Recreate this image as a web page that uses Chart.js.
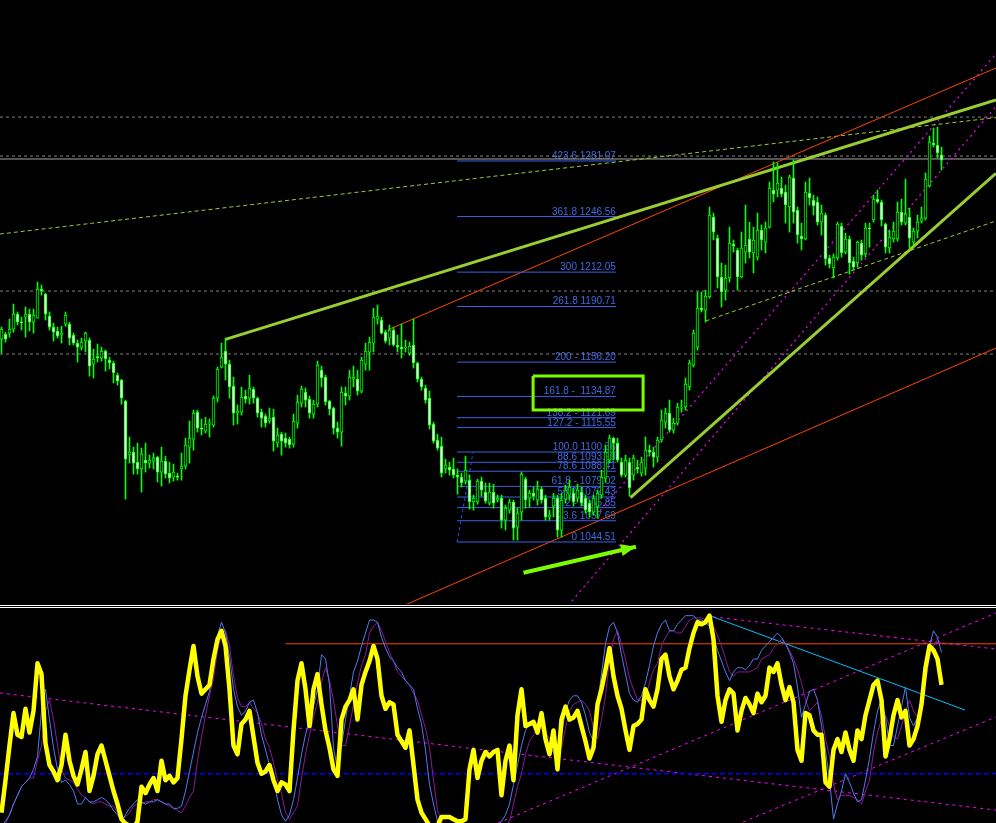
<!DOCTYPE html>
<html>
<head>
<meta charset="utf-8">
<script src="https://cdn.jsdelivr.net/npm/chart.js@4.4.0/dist/chart.umd.min.js"></script>
<style>
  html, body { margin: 0; padding: 0; background: #000; overflow: hidden; }
  #wrap { position: relative; width: 996px; height: 823px; background: #000; }
  #price { position: absolute; left: 0; top: 0; }
  #sep { position: absolute; left: 0; top: 605px; width: 996px; height: 1px; border-top: 1px solid #fff; border-bottom: 1px solid #fff; }
  #osc { position: absolute; left: 0; top: 608px; }
</style>
</head>
<body>
<div id="wrap">
  <canvas id="price" width="996" height="604"></canvas>
  <div id="sep"></div>
  <canvas id="osc" width="996" height="215"></canvas>
</div>
<script>
// candles, one per bar
const opens = [
  1170.5, 1173.6, 1174.2, 1176.7, 1186.0, 1181.0, 1184.1, 1186.0, 1181.0, 1183.5,
  1201.5, 1198.4, 1184.8, 1177.9, 1175.5, 1173.0, 1179.8, 1179.8, 1173.0, 1168.0,
  1165.5, 1169.2, 1169.9, 1154.9, 1159.3, 1158.7, 1163.0, 1157.4, 1155.6, 1148.1,
  1145.0, 1132.0, 1098.5, 1100.3, 1094.1, 1089.8, 1095.3, 1093.5, 1094.7, 1097.2,
  1087.9, 1094.7, 1087.3, 1084.8, 1085.4, 1089.8, 1091.6, 1103.4, 1108.4, 1125.1,
  1115.2, 1113.3, 1117.7, 1117.1, 1133.8, 1153.1, 1163.0, 1154.9, 1141.3, 1124.5,
  1125.1, 1135.1, 1133.8, 1139.4, 1133.8, 1125.1, 1122.7, 1119.6, 1122.0, 1105.9,
  1111.5, 1109.0, 1108.4, 1105.3, 1118.3, 1130.7, 1137.6, 1133.2, 1123.9, 1130.1,
  1151.2, 1146.9, 1132.0, 1127.6, 1115.2, 1112.7, 1137.0, 1135.1, 1145.6, 1145.6,
  1138.2, 1154.9, 1162.4, 1168.0, 1182.9, 1182.3, 1174.8, 1171.1, 1176.1, 1166.8,
  1165.5, 1164.9, 1161.8, 1166.8, 1155.6, 1145.6, 1140.1, 1133.8, 1117.7, 1107.8,
  1104.0, 1089.8, 1091.0, 1089.8, 1086.0, 1084.8, 1082.3, 1082.9, 1069.3, 1069.3,
  1082.3, 1075.5, 1068.6, 1075.5, 1070.5, 1071.7, 1058.1, 1064.3, 1069.3, 1053.7,
  1063.0, 1083.5, 1071.7, 1074.8, 1070.5, 1077.3, 1071.7, 1059.9, 1066.8, 1071.7,
  1051.9, 1071.1, 1073.6, 1074.8, 1071.7, 1075.5, 1071.7, 1068.6, 1063.0, 1066.2,
  1073.6, 1084.2, 1095.3, 1109.0, 1105.9, 1094.1, 1086.0, 1094.1, 1086.0, 1091.0,
  1087.3, 1090.4, 1101.5, 1100.3, 1097.2, 1107.8, 1118.9, 1124.5, 1114.0, 1118.3,
  1127.6, 1128.3, 1140.7, 1154.3, 1165.5, 1189.7, 1188.5, 1196.6, 1246.2, 1233.2,
  1209.0, 1200.9, 1208.4, 1229.5, 1225.8, 1209.0, 1224.5, 1232.6, 1223.9, 1221.4,
  1238.2, 1230.7, 1240.0, 1263.0, 1263.0, 1264.3, 1261.8, 1252.5, 1270.5, 1250.6,
  1234.4, 1232.6, 1261.2, 1256.8, 1255.6, 1243.1, 1247.5, 1220.8, 1214.6, 1220.8,
  1240.7, 1224.5, 1232.6, 1218.9, 1217.7, 1230.1, 1223.3, 1239.4, 1244.4, 1257.4,
  1255.6, 1241.9, 1227.0, 1232.6, 1232.6, 1249.3, 1242.5, 1246.2, 1230.7, 1237.5,
  1243.7, 1245.6, 1265.5, 1292.2, 1291.0, 1284.8
];
const highs = [
  1177.9, 1174.8, 1182.9, 1192.2, 1187.3, 1184.1, 1190.4, 1189.1, 1189.1, 1205.9,
  1204.0, 1199.0, 1187.3, 1180.4, 1177.9, 1178.5, 1187.3, 1181.0, 1174.2, 1169.9,
  1171.1, 1174.8, 1171.1, 1164.3, 1167.4, 1165.5, 1163.7, 1159.3, 1156.8, 1149.4,
  1145.6, 1132.6, 1109.6, 1103.4, 1105.9, 1102.8, 1105.9, 1098.4, 1099.7, 1097.8,
  1103.4, 1097.8, 1094.1, 1092.9, 1087.3, 1099.7, 1109.0, 1119.6, 1126.4, 1126.4,
  1120.8, 1122.0, 1120.8, 1135.1, 1153.1, 1168.0, 1171.1, 1157.4, 1146.9, 1129.5,
  1140.7, 1138.8, 1148.1, 1140.7, 1134.5, 1127.0, 1123.9, 1127.6, 1127.0, 1115.2,
  1112.7, 1112.1, 1109.6, 1123.9, 1135.7, 1141.3, 1140.1, 1135.1, 1132.6, 1156.8,
  1153.7, 1148.1, 1132.6, 1128.3, 1118.9, 1140.7, 1140.7, 1151.2, 1153.7, 1151.2,
  1159.3, 1168.0, 1171.7, 1189.7, 1191.6, 1184.1, 1176.1, 1179.2, 1177.9, 1173.0,
  1179.8, 1169.9, 1168.6, 1182.9, 1156.2, 1146.9, 1141.9, 1138.2, 1118.9, 1111.5,
  1109.6, 1095.9, 1094.1, 1096.6, 1089.8, 1087.3, 1097.8, 1086.0, 1073.6, 1083.5,
  1084.8, 1081.1, 1081.1, 1080.4, 1073.6, 1073.6, 1067.4, 1071.1, 1070.5, 1065.5,
  1087.9, 1084.8, 1076.7, 1078.6, 1082.3, 1078.6, 1073.6, 1064.3, 1074.8, 1073.6,
  1074.8, 1079.8, 1082.9, 1077.9, 1080.4, 1078.6, 1073.6, 1070.5, 1073.6, 1076.7,
  1089.1, 1104.7, 1110.9, 1109.6, 1109.0, 1096.6, 1098.4, 1096.6, 1098.4, 1095.3,
  1097.2, 1109.6, 1104.7, 1103.4, 1109.6, 1126.4, 1127.6, 1132.6, 1121.4, 1130.7,
  1132.6, 1146.3, 1157.4, 1176.1, 1199.7, 1199.7, 1200.9, 1252.5, 1248.7, 1235.1,
  1217.7, 1216.4, 1240.0, 1232.0, 1227.0, 1236.9, 1253.7, 1243.1, 1240.0, 1248.7,
  1241.3, 1243.1, 1268.0, 1280.4, 1279.8, 1271.1, 1266.1, 1272.3, 1281.6, 1252.5,
  1242.5, 1268.0, 1270.5, 1259.9, 1258.7, 1253.7, 1248.7, 1222.6, 1223.3, 1243.1,
  1242.5, 1236.3, 1234.4, 1221.4, 1231.3, 1232.0, 1242.5, 1242.5, 1259.9, 1263.0,
  1256.8, 1242.5, 1238.2, 1243.1, 1255.6, 1257.4, 1269.8, 1251.8, 1239.4, 1247.5,
  1252.5, 1273.6, 1296.5, 1301.5, 1302.1, 1289.7
];
const lows = [
  1161.8, 1168.6, 1171.7, 1174.8, 1179.2, 1176.1, 1171.7, 1175.5, 1174.2, 1183.5,
  1197.8, 1182.3, 1176.1, 1169.2, 1171.1, 1168.0, 1178.5, 1166.8, 1166.8, 1156.2,
  1163.7, 1162.4, 1147.5, 1146.3, 1156.2, 1156.8, 1150.6, 1151.9, 1143.2, 1141.9,
  1130.1, 1071.1, 1093.5, 1086.6, 1086.6, 1075.5, 1087.9, 1090.4, 1089.8, 1081.7,
  1079.2, 1084.2, 1081.1, 1082.3, 1082.9, 1082.9, 1089.8, 1093.5, 1101.5, 1112.7,
  1110.9, 1112.1, 1109.6, 1115.8, 1131.4, 1152.5, 1145.0, 1133.8, 1117.1, 1117.7,
  1123.3, 1130.7, 1130.1, 1130.7, 1122.0, 1115.8, 1115.8, 1118.3, 1100.9, 1103.4,
  1098.4, 1103.4, 1102.8, 1103.4, 1115.2, 1128.3, 1128.3, 1121.4, 1121.4, 1128.3,
  1140.7, 1129.5, 1123.3, 1111.5, 1109.0, 1104.0, 1129.5, 1132.6, 1140.7, 1135.7,
  1137.0, 1151.2, 1151.2, 1162.4, 1179.8, 1173.6, 1168.0, 1166.8, 1166.1, 1162.4,
  1158.7, 1162.4, 1160.5, 1152.5, 1143.8, 1138.8, 1130.7, 1114.6, 1105.9, 1101.5,
  1084.8, 1087.3, 1086.0, 1084.2, 1074.2, 1078.6, 1080.4, 1064.9, 1064.3, 1068.0,
  1073.0, 1068.6, 1067.4, 1065.5, 1069.3, 1053.1, 1051.9, 1062.4, 1045.7, 1045.7,
  1058.1, 1065.5, 1066.2, 1070.5, 1067.4, 1068.6, 1058.1, 1058.1, 1060.0, 1047.5,
  1047.5, 1068.6, 1070.5, 1066.8, 1069.3, 1066.8, 1062.4, 1060.0, 1061.2, 1059.3,
  1071.7, 1081.7, 1093.5, 1095.3, 1094.1, 1084.8, 1084.8, 1073.0, 1082.9, 1087.3,
  1085.4, 1086.0, 1097.8, 1091.0, 1094.1, 1106.5, 1115.2, 1112.7, 1112.1, 1117.1,
  1125.1, 1126.4, 1138.8, 1153.1, 1163.7, 1187.3, 1181.0, 1195.9, 1232.0, 1202.2,
  1190.4, 1194.7, 1205.9, 1224.5, 1200.9, 1208.4, 1217.7, 1220.8, 1211.5, 1219.5,
  1225.8, 1223.9, 1239.4, 1255.6, 1258.7, 1258.7, 1242.5, 1236.9, 1242.5, 1230.1,
  1225.8, 1232.0, 1253.7, 1247.5, 1241.3, 1235.1, 1216.4, 1214.6, 1208.4, 1219.5,
  1221.4, 1223.3, 1210.8, 1213.3, 1215.2, 1219.5, 1221.4, 1227.6, 1243.1, 1254.9,
  1240.7, 1223.9, 1223.9, 1230.7, 1231.3, 1241.3, 1241.3, 1227.0, 1228.9, 1233.2,
  1242.5, 1244.4, 1264.9, 1289.7, 1282.9, 1275.4
];
const closes = [
  1176.7, 1170.5, 1176.7, 1186.0, 1181.0, 1180.6, 1186.0, 1181.0, 1185.4, 1201.5,
  1200.3, 1186.0, 1177.9, 1174.8, 1172.3, 1174.2, 1185.4, 1171.1, 1168.0, 1165.5,
  1168.6, 1174.2, 1153.7, 1158.1, 1159.0, 1163.0, 1158.1, 1155.6, 1149.4, 1144.4,
  1133.8, 1095.9, 1100.3, 1093.5, 1089.8, 1099.1, 1093.5, 1095.3, 1096.6, 1087.9,
  1094.7, 1086.6, 1084.2, 1087.9, 1084.8, 1091.6, 1104.7, 1109.0, 1124.5, 1115.2,
  1114.6, 1117.7, 1118.3, 1133.8, 1151.9, 1159.3, 1154.9, 1140.7, 1124.5, 1125.8,
  1134.5, 1133.2, 1140.1, 1133.8, 1124.5, 1121.4, 1118.3, 1121.4, 1107.1, 1110.9,
  1107.1, 1105.9, 1104.7, 1119.6, 1131.4, 1139.4, 1132.6, 1124.5, 1130.1, 1154.3,
  1146.3, 1131.4, 1127.0, 1115.2, 1112.7, 1137.6, 1135.1, 1146.9, 1146.9, 1138.2,
  1157.4, 1163.0, 1168.6, 1184.1, 1184.8, 1174.2, 1169.2, 1176.1, 1166.8, 1165.5,
  1164.3, 1165.5, 1166.1, 1155.6, 1145.6, 1140.7, 1132.6, 1117.1, 1107.1, 1102.8,
  1087.3, 1092.2, 1089.1, 1086.0, 1084.8, 1081.1, 1089.1, 1069.3, 1071.7, 1082.3,
  1076.7, 1069.9, 1075.5, 1068.6, 1071.7, 1058.1, 1065.5, 1069.3, 1053.1, 1062.4,
  1086.6, 1070.5, 1074.8, 1073.0, 1077.3, 1070.5, 1059.9, 1061.2, 1071.7, 1051.9,
  1070.5, 1076.7, 1078.6, 1069.3, 1076.7, 1068.6, 1064.3, 1063.0, 1071.7, 1074.8,
  1084.8, 1100.3, 1109.0, 1105.9, 1095.3, 1086.0, 1095.3, 1078.0, 1096.6, 1089.8,
  1094.1, 1101.5, 1100.3, 1097.2, 1107.8, 1120.2, 1124.5, 1114.0, 1118.3, 1128.3,
  1128.3, 1142.5, 1155.6, 1174.2, 1189.7, 1188.5, 1197.2, 1247.5, 1236.9, 1209.0,
  1199.7, 1208.4, 1230.1, 1228.2, 1209.0, 1227.0, 1228.9, 1224.5, 1232.0, 1238.2,
  1232.0, 1239.4, 1264.3, 1260.5, 1267.4, 1260.5, 1253.7, 1271.1, 1249.3, 1235.1,
  1232.6, 1261.8, 1258.1, 1253.1, 1243.1, 1248.7, 1220.2, 1217.1, 1221.4, 1241.9,
  1223.9, 1232.6, 1217.7, 1215.2, 1230.7, 1222.6, 1239.4, 1238.8, 1257.4, 1255.6,
  1244.4, 1227.6, 1233.8, 1237.5, 1249.3, 1243.1, 1248.1, 1233.2, 1237.5, 1243.1,
  1245.6, 1269.8, 1292.8, 1291.0, 1286.0, 1281.6
];

// oscillator (lower window)
const mainLine = [
  2, 17, 33, 48, 38, 37, 50, 39, 49, 71,
  66, 34, 24, 21, 17, 24, 38, 26, 19, 15,
  22, 30, 12, 19, 29, 33, 26, 19, 12, 6,
  -1, -3, -4, -5, -2, 14, 11, 15, 18, 12,
  26, 17, 19, 16, 18, 36, 56, 68, 79, 65,
  57, 59, 61, 73, 82, 86, 79, 59, 33, 29,
  43, 45, 49, 37, 25, 20, 21, 24, 17, 12,
  16, 15, 12, 40, 63, 71, 59, 42, 59, 66,
  52, 40, 32, 22, 19, 45, 51, 54, 59, 45,
  61, 67, 72, 79, 73, 56, 50, 53, 52, 38,
  35, 32, 40, 24, 8, 2, -1, -4, -5, -4,
  0, 0, 0, -1, -2, -2, -1, 22, 31, 18,
  26, 30, 28, 30, 31, 10, 26, 33, 17, 47,
  59, 42, 43, 44, 39, 48, 36, 29, 40, 22,
  45, 51, 45, 46, 49, 42, 35, 27, 32, 52,
  59, 68, 78, 65, 56, 50, 40, 31, 42, 43,
  45, 59, 54, 51, 59, 73, 75, 65, 59, 63,
  68, 69, 78, 85, 90, 89, 90, 93, 82, 56,
  44, 54, 59, 57, 40, 49, 55, 52, 48, 57,
  53, 56, 69, 67, 71, 61, 54, 60, 53, 31,
  26, 48, 47, 40, 38, 38, 16, 14, 31, 36,
  30, 39, 31, 26, 40, 36, 47, 54, 61, 63,
  54, 28, 36, 47, 54, 46, 49, 33, 36, 42,
  52, 69, 79, 77, 73, 61
];
const fastLine = [
  -4, -2, 1, 6, 10, 14, 16, 18, 22, 28,
  49, 59, 45, 32, 22, 16, 17, 15, 12, 6,
  6, 9, 7, 7, 8, 9, 8, 6, 3, 1,
  -2, 1, 4, 6, 8, 7, 6, 7, 7, 8,
  7, 6, 6, 4, 4, 5, 12, 21, 30, 39,
  46, 52, 58, 75, 84, 90, 85, 74, 59, 51,
  47, 49, 53, 54, 48, 38, 31, 24, 19, 8,
  1, -2, 1, 8, 18, 29, 38, 45, 51, 59,
  75, 73, 61, 32, 22, 33, 45, 56, 67, 72,
  79, 85, 91, 91, 90, 83, 78, 74, 72, 69,
  67, 63, 61, 59, 50, 43, 31, 15, 6, -2,
  -6, -8, -9, -10, -10, -10, -9, -8, -7, -6,
  -6, -5, -5, -4, -4, -2, 1, 6, 15, 24,
  33, 40, 43, 42, 42, 42, 37, 32, 30, 26,
  38, 49, 54, 56, 56, 53, 47, 39, 35, 52,
  66, 80, 88, 90, 85, 75, 66, 57, 54, 53,
  56, 62, 70, 79, 85, 89, 91, 86, 86, 89,
  91, 93, 93, 93, 91, 91, 90, 88, 83, 77,
  72, 67, 63, 67, 69, 69, 68, 70, 73, 73,
  77, 79, 81, 83, 85, 83, 80, 76, 71, 60,
  46, 52, 58, 59, 54, 42, 31, 17, -1, 6,
  12, 20, 16, 11, 7, 8, 17, 27, 39, 49,
  54, 46, 33, 33, 42, 51, 60, 46, 42, 46,
  53, 67, 79, 86, 83, 76
];
const slowLine = [
  -5, -3, 1, 6, 10, 14, 16, 18, 18, 26,
  33, 49, 54, 45, 33, 22, 18, 17, 16, 13,
  10, 9, 7, 6, 7, 7, 6, 5, 5, 2,
  -1, 0, 2, 5, 6, 6, 7, 7, 8, 8,
  7, 6, 5, 4, 3, 2, 5, 9, 12, 26,
  37, 47, 56, 64, 77, 85, 86, 79, 65, 55,
  51, 51, 53, 50, 48, 43, 36, 32, 25, 17,
  11, 2, -1, 2, 5, 18, 29, 38, 46, 53,
  62, 69, 63, 54, 42, 33, 33, 42, 52, 62,
  70, 75, 85, 88, 90, 86, 81, 76, 72, 67,
  65, 63, 61, 57, 54, 47, 41, 32, 17, 3,
  -2, -5, -7, -8, -9, -10, -10, -10, -9, -8,
  -7, -6, -6, -5, -6, -5, -4, -2, 6, 14,
  20, 29, 35, 38, 41, 41, 39, 36, 36, 33,
  32, 41, 49, 52, 53, 54, 52, 49, 41, 36,
  45, 56, 73, 82, 86, 80, 73, 64, 59, 54,
  54, 55, 62, 68, 71, 79, 83, 86, 86, 85,
  85, 88, 91, 92, 92, 92, 91, 90, 88, 84,
  79, 73, 67, 65, 67, 67, 67, 67, 68, 69,
  73, 74, 75, 78, 80, 82, 80, 77, 73, 68,
  62, 54, 49, 51, 53, 47, 36, 28, 15, 8,
  10, 10, 10, 9, 8, 6, 12, 17, 30, 39,
  45, 47, 42, 37, 36, 42, 49, 54, 49, 46,
  52, 62, 74, 79, 82, 80
];

// fibonacci expansion
const fibPrices = [1044.51, 1057.69, 1065.85, 1072.43, 1079.02, 1088.41, 1093.99, 1100.36,
  1115.55, 1121.69, 1134.87, 1156.20, 1190.71, 1212.05, 1246.56, 1281.07];
const fibTexts = ['0 1044.51', '23.6 1057.69', '38.2 - 1065.85', '50.0 1072.43', '61.8 - 1079.02',
  '78.6 1088.41', '88.6 1093.99', '100.0 1100.36', '127.2 - 1115.55', '138.2 - 1121.69',
  '161.8 -  1134.87', '200 - 1156.20', '261.8 1190.71', '300 1212.05', '361.8 1246.56', '423.6 1281.07'];
const fibSpan = [113.9, 153.6];
const fibBase = [[113.9, 1044.51], [117.9, 1100.36]];

// drawn objects on the price window: [bar index, price]
const upperTrend = [[56, 1170.3], [248.6, 1318.9]];
const lowerTrend = [[157.25, 1072.0], [248.6, 1273.4]];
const redUpper = [[96.5, 1176.1], [248.6, 1338.8]];
const redLower = [[100.5, 1005.0], [248.6, 1164.9]];
const magentaA = [[149.6, 1063.9], [248.6, 1347.5]];
const magentaB = [[141.6, 1005.0], [248.6, 1314.8]];
const yDashLong = [[-0.4, 1235.7], [248.6, 1308.0]];
const yDashShort = [[176, 1181.7], [248.6, 1243.8]];
const grayDashed = [1308.3, 1284.1, 1200.3, 1161.2];
const graySolid = [1282.3];
const boxCorners = [[132.9, 1147.6], [160.4, 1126.5]];
const arrowPts = [[130.5, 1025.4], [158.6, 1041.5]];

// drawn objects on the oscillator window
const oscRed = [[71, 80], [248.6, 80]];
const oscBlueLevel = 20;
const oscCyan = [[176.6, 93.3], [240.9, 49.4]];
const oscMagenta = [
  [[-0.4, 57.3], [248.6, 3.2]],
  [[177.9, 92.4], [248.6, 77.6]],
  [[124.1, -2.8], [248.6, 94.2]],
  [[185.4, -2.3], [248.6, 46.2]]
];

const X_MIN = -0.375, X_MAX = 248.625;
const idx = opens.map((_, i) => i);

function seg(points, color, width, dash, order) {
  return {
    type: 'line',
    data: points.map(p => ({ x: p[0], y: p[1] })),
    borderColor: color,
    borderWidth: width,
    borderDash: dash || [],
    pointRadius: 0,
    fill: false,
    tension: 0,
    order: order || 5
  };
}

const datasets = [];
// bull candles hollow (black), bear candles white, outlined in lime
datasets.push({
  type: 'bar',
  data: idx.map(i => ({ x: i, y: [opens[i], closes[i]] })),
  backgroundColor: idx.map(i => closes[i] >= opens[i] ? '#000000' : '#ffffff'),
  borderColor: '#00ff00',
  borderWidth: 1,
  borderSkipped: false,
  barThickness: 3,
  minBarLength: 1,
  grouped: false,
  order: 0
});
datasets.push({
  type: 'bar',
  data: idx.map(i => ({ x: i, y: [lows[i], highs[i]] })),
  backgroundColor: '#00ff00',
  borderWidth: 0,
  barThickness: 1,
  grouped: false,
  order: 1
});
grayDashed.forEach(p => datasets.push(seg([[X_MIN, p], [X_MAX, p]], '#808080', 1, [3, 3], 9)));
graySolid.forEach(p => datasets.push(seg([[X_MIN, p], [X_MAX, p]], '#a9a9a9', 1, [], 9)));
fibPrices.forEach(p => datasets.push(seg([[fibSpan[0], p], [fibSpan[1], p]], '#3a60e8', 1, [], 6)));
datasets.push(seg(fibBase, '#2a4cff', 1, [3, 3], 6));
datasets.push(seg(yDashLong, '#9acd32', 1, [4, 3], 7));
datasets.push(seg(yDashShort, '#9acd32', 1, [4, 3], 7));
datasets.push(seg(magentaA, '#ff00ff', 1.2, [2, 4], 7));
datasets.push(seg(magentaB, '#ff00ff', 1.2, [2, 4], 7));
datasets.push(seg(redUpper, '#ff4500', 1, [], 6));
datasets.push(seg(redLower, '#ff4500', 1, [], 6));
datasets.push(seg(upperTrend, '#9acd32', 3, [], 5));
datasets.push(seg(lowerTrend, '#9acd32', 3, [], 5));
const b = boxCorners;
datasets.push(seg([[b[0][0], b[0][1]], [b[1][0], b[0][1]], [b[1][0], b[1][1]], [b[0][0], b[1][1]], [b[0][0], b[0][1]]], '#7cfc00', 3, [], 2));
datasets.push(seg(arrowPts, '#7cfc00', 4, [], 2));

// fib labels under the candles, arrow head on top
const priceDecor = {
  id: 'priceDecor',
  beforeDatasetsDraw(chart) {
    const { ctx, scales: { x, y } } = chart;
    ctx.save();
    ctx.font = '10px "Liberation Sans", Arial, sans-serif';
    ctx.fillStyle = '#4169e1';
    ctx.textAlign = 'right';
    ctx.textBaseline = 'alphabetic';
    fibPrices.forEach((p, k) => {
      ctx.fillText(fibTexts[k], x.getPixelForValue(fibSpan[1]), y.getPixelForValue(p) - 2);
    });
    ctx.restore();
  },
  afterDatasetsDraw(chart) {
    const { ctx, scales: { x, y } } = chart;
    const x0 = x.getPixelForValue(arrowPts[0][0]), y0 = y.getPixelForValue(arrowPts[0][1]);
    const x1 = x.getPixelForValue(arrowPts[1][0]), y1 = y.getPixelForValue(arrowPts[1][1]);
    const a = Math.atan2(y1 - y0, x1 - x0);
    ctx.save();
    ctx.fillStyle = '#7cfc00';
    ctx.beginPath();
    ctx.moveTo(x1, y1);
    ctx.lineTo(x1 - 15 * Math.cos(a) + 6 * Math.sin(a), y1 - 15 * Math.sin(a) - 6 * Math.cos(a));
    ctx.lineTo(x1 - 15 * Math.cos(a) - 6 * Math.sin(a), y1 - 15 * Math.sin(a) + 6 * Math.cos(a));
    ctx.closePath();
    ctx.fill();
    ctx.restore();
  }
};

const hiddenScales = (ymin, ymax) => ({
  x: { type: 'linear', min: X_MIN, max: X_MAX, display: false, offset: false },
  y: { type: 'linear', min: ymin, max: ymax, display: false }
});

new Chart(document.getElementById('price').getContext('2d'), {
  type: 'bar',
  data: { datasets: datasets },
  options: {
    responsive: false,
    animation: false,
    devicePixelRatio: 1,
    layout: { padding: 0 },
    plugins: { legend: { display: false }, tooltip: { enabled: false } },
    scales: hiddenScales(1006.0, 1381.0)
  },
  plugins: [priceDecor]
});

const oscSets = [
  {
    type: 'line',
    data: idx.map(i => ({ x: i, y: mainLine[i] })),
    borderColor: '#ffff00', borderWidth: 4.5, pointRadius: 0, tension: 0, order: 0,
    borderJoinStyle: 'round'
  },
  {
    type: 'line',
    data: idx.map(i => ({ x: i, y: fastLine[i] })),
    borderColor: '#4f7cf0', borderWidth: 1, pointRadius: 0, tension: 0, order: 1
  },
  {
    type: 'line',
    data: idx.map(i => ({ x: i, y: slowLine[i] })),
    borderColor: '#8a1a9a', borderWidth: 1, pointRadius: 0, tension: 0, order: 2
  },
  seg([[X_MIN, oscBlueLevel], [X_MAX, oscBlueLevel]], '#0000ff', 1.5, [5, 3], 4),
  seg(oscRed, '#ff4500', 1, [], 3),
  seg(oscCyan, '#00bfff', 1, [], 3)
];
oscMagenta.forEach(l => oscSets.push(seg(l, '#ff00ff', 1, [3, 4], 4)));

new Chart(document.getElementById('osc').getContext('2d'), {
  type: 'line',
  data: { datasets: oscSets },
  options: {
    responsive: false,
    animation: false,
    devicePixelRatio: 1,
    layout: { padding: 0 },
    plugins: { legend: { display: false }, tooltip: { enabled: false } },
    scales: hiddenScales(-2.77, 96.54)
  }
});
</script>
</body>
</html>
